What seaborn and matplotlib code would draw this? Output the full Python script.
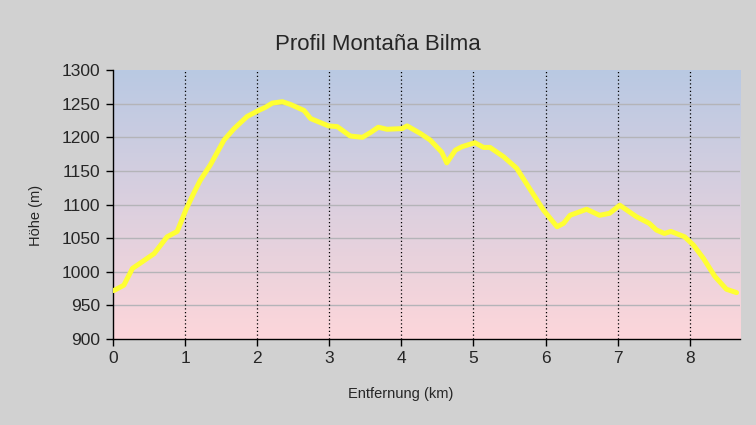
import numpy as np
import pandas as pd
import matplotlib
matplotlib.use("Agg")
import matplotlib.pyplot as plt
import seaborn as sns
from matplotlib.colors import LinearSegmentedColormap

# profile
distance_km = [0.01, 0.15, 0.27, 0.38, 0.57, 0.75, 0.89, 1.01, 1.12, 1.21, 1.35,
               1.54, 1.68, 1.86, 2.02, 2.12, 2.21, 2.35, 2.46, 2.65, 2.74, 2.99,
               3.11, 3.29, 3.46, 3.57, 3.68, 3.80, 4.01, 4.08, 4.26, 4.40, 4.56,
               4.63, 4.75, 4.84, 5.02, 5.14, 5.23, 5.42, 5.60, 5.79, 5.97, 6.16,
               6.25, 6.34, 6.57, 6.75, 6.89, 7.03, 7.26, 7.44, 7.54, 7.65, 7.74,
               7.93, 8.05, 8.19, 8.35, 8.51, 8.65]
height_m = [972, 980, 1005, 1013, 1027, 1052, 1060, 1092, 1117, 1136, 1159,
            1196, 1213, 1231, 1240, 1245, 1251, 1253, 1249, 1240, 1228, 1217,
            1216, 1202, 1200, 1207, 1215, 1212, 1213, 1217, 1206, 1196, 1178,
            1162, 1181, 1186, 1192, 1185, 1185, 1171, 1154, 1122, 1092, 1067,
            1072, 1084, 1093, 1084, 1087, 1099, 1082, 1072, 1062, 1057, 1060,
            1052, 1040, 1020, 993, 974, 969]

x_ticks = [0, 1, 2, 3, 4, 5, 6, 7, 8]
y_ticks = [900, 950, 1000, 1050, 1100, 1150, 1200, 1250, 1300]

df = pd.DataFrame({"km": distance_km, "hoehe": height_m})

sns.set_style("white")
plt.rcParams["font.family"] = ["Liberation Sans", "DejaVu Sans"]

fig = plt.figure(figsize=(7.56, 4.25), dpi=100, facecolor="#d1d1d1")
ax = fig.add_axes([0.1495, 0.2024, 0.8295, 0.6326])

# gradient background: blue at the top, pink at the bottom
cmap = LinearSegmentedColormap.from_list("bg", ["#b9c9e3", "#fdd6da"])
grad = np.linspace(0, 1, 256).reshape(-1, 1)
ax.imshow(grad, cmap=cmap, aspect="auto", origin="upper",
          extent=[0, 8.7, 900, 1300], zorder=0)

for y in y_ticks[1:-1]:
    ax.axhline(y, color="#b4b4b8", lw=1, zorder=1)
for x in x_ticks[1:]:
    ax.axvline(x, color="black", lw=0.9, ls=(0, (1, 2)), zorder=1)

sns.lineplot(data=df, x="km", y="hoehe", ax=ax, color="#ffff33", lw=3.6,
             zorder=3)

ax.set_xlim(0, 8.7)
ax.set_ylim(900, 1300)
ax.set_xticks(x_ticks)
ax.set_yticks(y_ticks)
ax.tick_params(axis="both", labelsize=12.5, length=5, width=1, direction="out",
               color="black", pad=4)
ax.tick_params(bottom=True, left=True)

for side in ["top", "right"]:
    ax.spines[side].set_visible(False)
for side in ["left", "bottom"]:
    ax.spines[side].set_color("black")
    ax.spines[side].set_linewidth(1)

ax.set_xlabel("Entfernung (km)", fontsize=10.5)
ax.set_ylabel("Höhe (m)", fontsize=10.5)
ax.xaxis.set_label_coords(0.458, -0.178)
ax.yaxis.set_label_coords(-0.111, 0.461)
fig.suptitle("Profil Montaña Bilma", fontsize=16, y=0.92)

fig.savefig("out.png", dpi=100, facecolor=fig.get_facecolor())
